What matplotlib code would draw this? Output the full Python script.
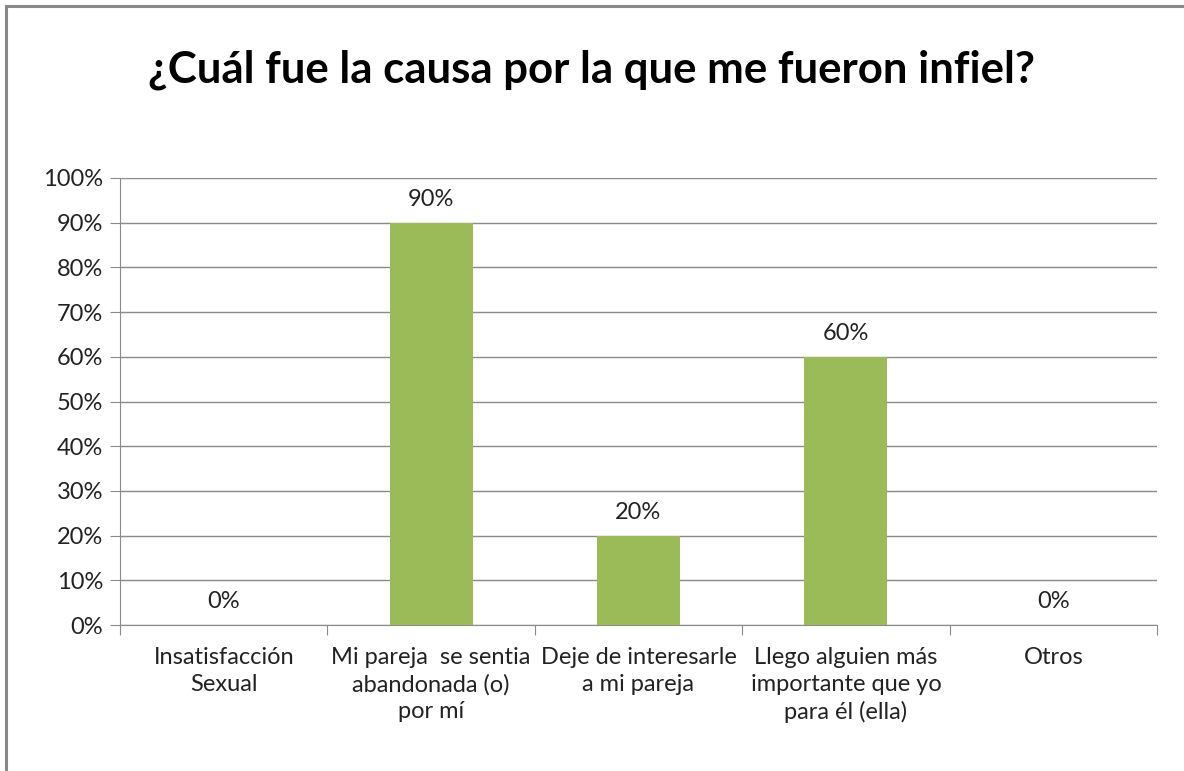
import matplotlib.pyplot as plt
from matplotlib.patches import Rectangle
import numpy as np

# datos de la encuesta
causas = [
    "Insatisfacción\nSexual",
    "Mi pareja  se sentia\nabandonada (o)\npor mí",
    "Deje de interesarle\na mi pareja",
    "Llego alguien más\nimportante que yo\npara él (ella)",
    "Otros",
]
porcentajes = [0, 90, 20, 60, 0]
etiquetas = ["0%", "90%", "20%", "60%", "0%"]

plt.rcParams['font.family'] = ['Lato', 'DejaVu Sans']

W, H = 1184, 771
fig = plt.figure(figsize=(W / 100, H / 100), dpi=100)
ax = fig.add_axes([120 / W, 1 - 625 / H, (1157 - 120) / W, (625 - 178) / H])

x = np.arange(len(causas))
ax.bar(x, porcentajes, width=0.4, color="#9BBB59", zorder=3)

for xi, v, t in zip(x, porcentajes, etiquetas):
    ax.annotate(t, xy=(xi, v), xytext=(0, 9), textcoords="offset points",
                ha="center", va="bottom", fontsize=17, color="#222222")

ax.set_xlim(-0.5, len(causas) - 0.5)
ax.set_ylim(0, 100)
ax.set_yticks(np.arange(0, 101, 10))
ax.set_yticklabels([f"{v}%" for v in range(0, 101, 10)], fontsize=17, color="#222222")
ax.yaxis.grid(True, color="#8a8a8a", linewidth=1.0, zorder=0)
ax.tick_params(axis="y", length=7, color="#8a8a8a", pad=5)

# marcas entre categorías en el eje x
ax.set_xticks(np.arange(-0.5, len(causas), 1.0))
ax.set_xticklabels([])
ax.set_xticks(x, minor=True)
ax.set_xticklabels(causas, minor=True, fontsize=17, color="#222222", va="top")
for lbl in ax.get_xticklabels(minor=True):
    lbl.set_linespacing(1.32)
ax.tick_params(axis="x", which="major", length=7, color="#8a8a8a", direction="out")
ax.tick_params(axis="x", which="minor", length=0, pad=16)

for s in ["top", "right"]:
    ax.spines[s].set_visible(False)
for s in ["left", "bottom"]:
    ax.spines[s].set_color("#8a8a8a")

fig.text(0.5, 1 - 70 / H, "¿Cuál fue la causa por la que me fueron infiel?",
         ha="center", va="center", fontsize=31.5, fontweight="bold", color="black")

# marco del gráfico
fig.patches.append(Rectangle((6 / W, -0.05), 1.1, 1 - 6 / H + 0.05, transform=fig.transFigure,
                             fill=False, edgecolor="#888888", linewidth=2.2))

fig.savefig("out.png", dpi=100)
